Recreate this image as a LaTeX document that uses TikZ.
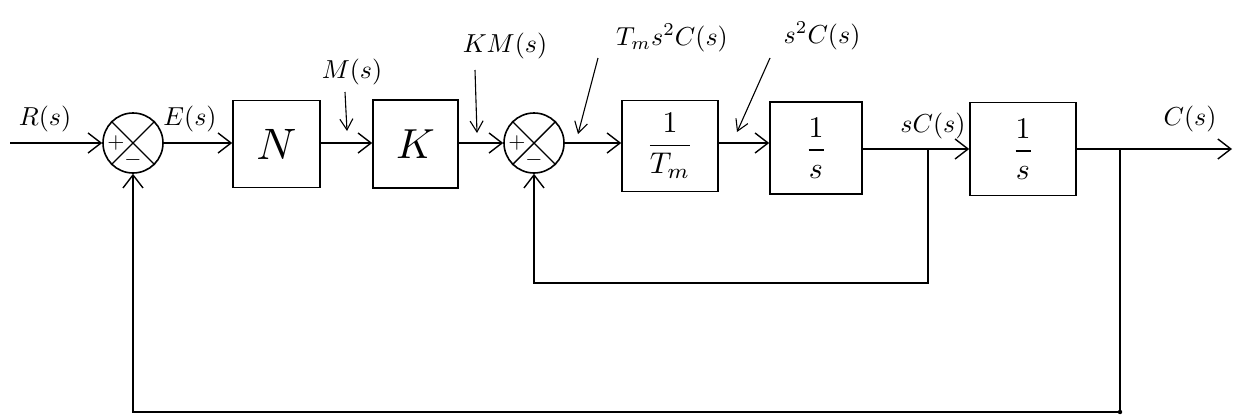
\documentclass[tikz,border=0pt]{standalone}
\usepackage{amsmath}
\usepackage{graphicx}
\usetikzlibrary{arrows.meta}
\newcommand{\lb}[1]{\scalebox{2.6}{$#1$}}
\begin{document}
\begin{tikzpicture}[x=1pt,y=-1pt,
  line width=1.6pt,
  arr/.style={-{Straight Barb[length=13pt,width=20pt,line width=1.4pt]}},
  ptr/.style={line width=1.1pt,-{Straight Barb[length=11pt,width=13pt,line width=1.1pt]}},
  blk/.style={draw,rectangle,inner sep=0pt},
  sumc/.style={draw,circle,minimum size=60pt,inner sep=0pt},
  lab/.style={inner sep=1pt}]
\useasboundingbox (0,0) rectangle (1234,418);

% summing junctions
\node[sumc] (s1) at (133,143) {};
\node[sumc] (s2) at (534,143) {};
\foreach \s in {s1,s2}{
  \draw[line width=1.4pt] (\s.north west) -- (\s.south east);
  \draw[line width=1.4pt] (\s.north east) -- (\s.south west);
  \node at ([xshift=-17pt]\s.center) {\scalebox{2.2}{$+$}};
  \node at ([yshift=-17pt]\s.center) {\scalebox{2.2}{$-$}};
}

% blocks
\node[blk,minimum width=87pt,minimum height=87pt] (N) at (276.5,144) {\scalebox{4.4}{$N$}};
\node[blk,minimum width=85pt,minimum height=88pt] (K) at (415.5,144) {\scalebox{4.2}{$K$}};
\node[blk,minimum width=96pt,minimum height=91pt] (Tm) at (670,146) {\scalebox{3}{$\dfrac{1}{T_m}$}};
\node[blk,minimum width=92pt,minimum height=92pt] (B3) at (816,148) {\scalebox{3}{$\dfrac{1}{s}$}};
\node[blk,minimum width=106pt,minimum height=93pt] (B4) at (1023,149) {\scalebox{3}{$\dfrac{1}{s}$}};

% input / output coordinates
\coordinate (in) at (10,143);
\coordinate (out) at (1232,149);

% forward path
\draw[arr] (in) -- (s1.west);
\draw[arr] (s1.east) -- (N.west |- s1.east);
\draw[arr] (N.east |- s1.east) -- (K.west |- s1.east);
\draw[arr] (K.east |- s1.east) -- (s2.west);
\draw[arr] (s2.east) -- (Tm.west |- s2.east);
\draw[arr] (Tm.east |- s2.east) -- (B3.west |- s2.east);
\draw[arr] (B3.east |- B4.west) -- (B4.west);
\draw[arr] (B4.east) -- (out);

% feedback paths
\coordinate (b1) at (928,149);
\coordinate (i1) at (928,283);
\coordinate (i2) at (534,283);
\draw[arr] (b1) -- (i1) -- (i2) -- (s2.south);
\coordinate (b2) at (1120,149);
\coordinate (o1) at (1120,412);
\coordinate (o2) at (133,412);
\draw[arr] (b2) -- (o1) -- (o2) -- (s1.south);
\fill (o1) circle (2.2pt);

% labels on lines
\node[lab] (lR) at (45,119) {\lb{R(s)}};
\node[lab] (lE) at (190,119) {\lb{E(s)}};
\node[lab] (lsC) at (933,126) {\lb{sC(s)}};
\node[lab] (lC) at (1190,119) {\lb{C(s)}};

% pointer labels
\node[lab] (lM) at (352,72) {\lb{M(s)}};
\node[lab] (lKM) at (505,46) {\lb{KM(s)}};
\node[lab] (lT) at (672,38) {\lb{T_m s^2 C(s)}};
\node[lab] (lS) at (822,36) {\lb{s^2C(s)}};
\coordinate (pM) at (347,131);
\coordinate (pKM) at (477,133);
\coordinate (pT) at (578,134);
\coordinate (pS) at (737,132);
\draw[ptr] (345,92) -- (pM);
\draw[ptr] (475,70) -- (pKM);
\draw[ptr] (598,58) -- (pT);
\draw[ptr] (770,58) -- (pS);
\end{tikzpicture}
\end{document}
